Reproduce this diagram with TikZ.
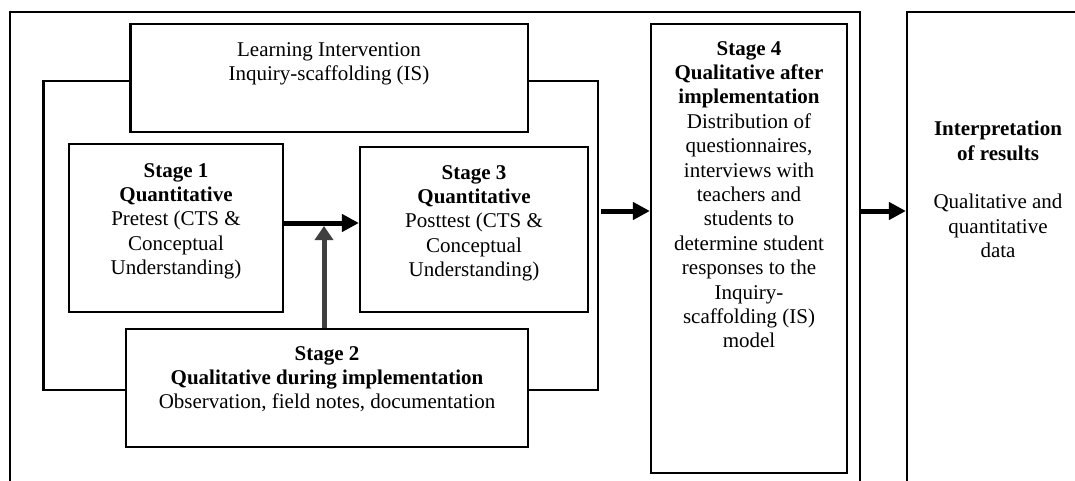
\documentclass[tikz,border=0pt]{standalone}
\usepackage{fontspec}
\setmainfont{Liberation Serif}
\usetikzlibrary{arrows.meta}
\definecolor{dgray}{HTML}{404040}
\begin{document}
\begin{tikzpicture}[x=1pt,y=-1pt,
  box/.style={draw, line width=2.2pt, inner sep=0pt, rectangle},
  txt/.style={align=center, inner sep=0pt, anchor=north, font=\fontsize{21}{24.4}\selectfont},
  conn/.style={draw, line width=2.2pt},
  arr/.style={line width=5pt, -{Triangle[length=17pt,width=17pt]}}]
\useasboundingbox (0,0) rectangle (1075,481);
\fill[white] (0,0) rectangle (1075,481);
\clip (0,0) rectangle (1075,481);
% boxes
\node[box, minimum width=850pt, minimum height=508pt] (outer) at (435,266) {};
\node[box, minimum width=183pt, minimum height=508pt] (rb) at (998.5,266) {};
\node[box, minimum width=397.5pt, minimum height=108pt] (li) at (329.25,78) {};
\node[box, minimum width=214.2pt, minimum height=168pt] (s1) at (175.9,228) {};
\node[box, minimum width=228pt, minimum height=165pt] (s3) at (474,229.5) {};
\node[box, minimum width=402.3pt, minimum height=118pt] (s2) at (326.85,388) {};
\node[box, minimum width=196pt, minimum height=449pt] (s4) at (749,248.5) {};
% texts
\node[txt] (lit) at (329,42) {Learning Intervention\\Inquiry-scaffolding (IS)};
\node[txt] (s1t) at (176,163) {\textbf{Stage 1}\\\textbf{Quantitative}\\Pretest (CTS \&\\Conceptual\\Understanding)};
\node[txt] (s3t) at (474,165) {\textbf{Stage 3}\\\textbf{Quantitative}\\Posttest (CTS \&\\Conceptual\\Understanding)};
\node[txt] (s2t) at (327,346) {\textbf{Stage 2}\\\textbf{Qualitative during implementation}\\Observation, field notes, documentation};
\node[txt] (s4t) at (749,41) {\textbf{Stage 4}\\\textbf{Qualitative after}\\\textbf{implementation}\\Distribution of\\questionnaires,\\interviews with\\teachers and\\students to\\determine student\\responses to the\\Inquiry-\\scaffolding (IS)\\model};
\node[txt] (rbt) at (998,121) {\textbf{Interpretation}\\\textbf{of results}\\[24.4pt]Qualitative and\\quantitative\\data};
% bracket
\coordinate (bl1) at (43.5,81);
\coordinate (bl2) at (43.5,390);
\coordinate (br1) at (598,81);
\coordinate (br2) at (598,390);
\draw[conn] (li.west |- bl1) -- (bl1) -- (bl2) -- (s2.west |- bl2);
\draw[conn] (li.east |- br1) -- (br1) -- (br2) -- (s2.east |- br2);
% arrows
\coordinate (a13) at (0,223);
\draw[arr] (s1.east |- a13) -- (s3.west |- a13);
\coordinate (a2) at (324,226);
\draw[line width=5pt, dgray, -{Triangle[length=14pt,width=18pt]}] (s2.north -| a2) -- (a2);
\coordinate (a4) at (601,211);
\draw[arr] (a4) -- (s4.west |- a4);
\coordinate (a5) at (0,211);
\draw[arr] (outer.east |- a5) -- (rb.west |- a5);
\end{tikzpicture}
\end{document}
